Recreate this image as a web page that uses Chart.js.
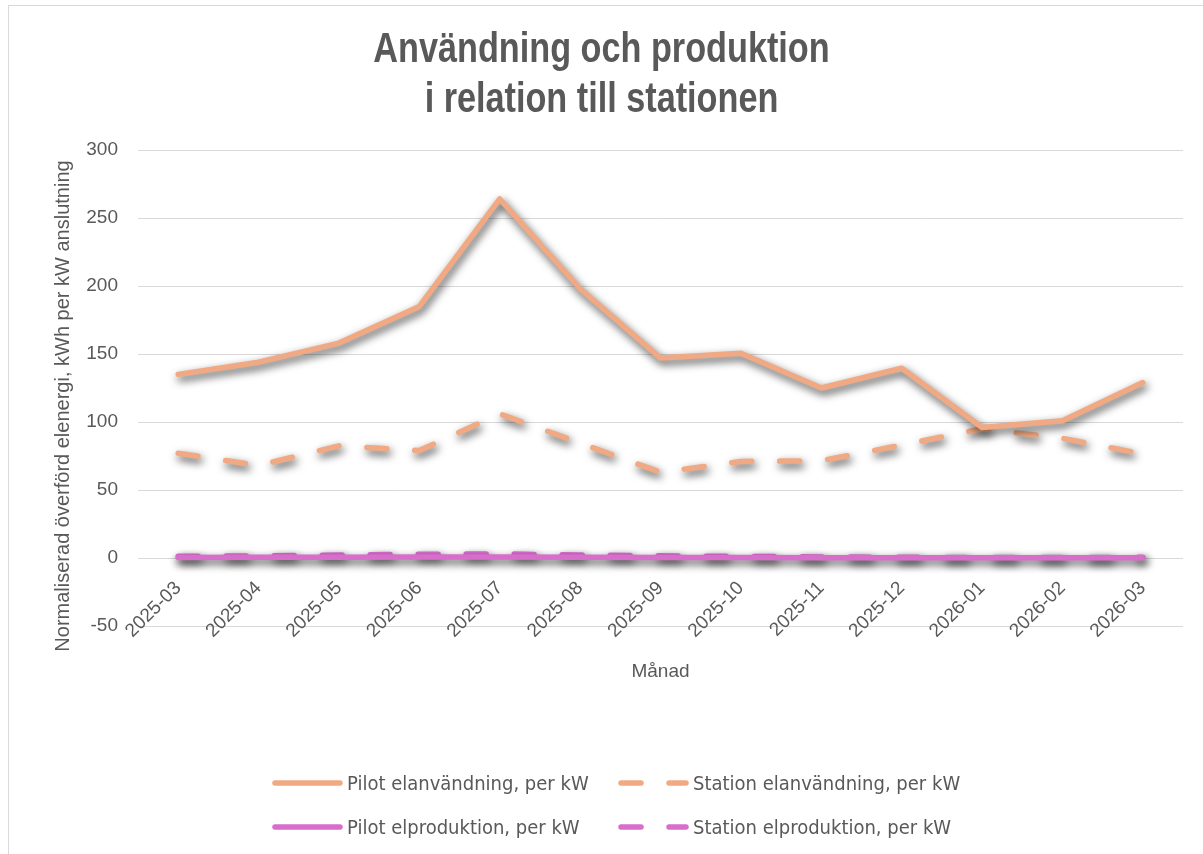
<!DOCTYPE html>
<html>
<head>
<meta charset="utf-8">
<script src="https://cdn.jsdelivr.net/npm/chart.js@4.4.1/dist/chart.umd.min.js"></script>
<style>
  html, body { margin: 0; padding: 0; background: #fff; }
  #wrap { position: relative; width: 1203px; height: 854px; overflow: hidden; }
  #frame { position: absolute; left: 8px; top: 5px; right: -10px; bottom: -10px; border: 1px solid #d9d9d9; pointer-events: none; }
  canvas { position: absolute; left: 0; top: 0; }
  .lg { position: absolute; display: flex; align-items: center; height: 22px;
        font-family: 'Liberation Sans Narrow', 'DejaVu Sans Condensed', sans-serif;
        font-size: 20px; color: #595959; white-space: nowrap; }
  .lg svg { display: block; margin-right: 4px; }
</style>
</head>
<body>
<div id="wrap">
  <canvas id="c" width="1203" height="854"></canvas>
  <div id="frame"></div>
  <div id="legend"></div>
</div>
<script>
// Monthly values, kWh per kW connection
const months = ['2025-03', '2025-04', '2025-05', '2025-06', '2025-07', '2025-08', '2025-09',
                '2025-10', '2025-11', '2025-12', '2026-01', '2026-02', '2026-03'];
const pilotUse     = [135, 144, 158, 185, 264, 198, 147, 150.5, 125, 139.5, 96, 101, 129];
const stationUse   = [77, 68, 82.5, 79, 106, 84.5, 63, 71, 71.5, 83, 95, 88, 76.5];
const pilotProd    = [0.4, 0.5, 0.6, 0.7, 0.7, 0.6, 0.4, 0.3, 0.2, 0.2, 0.1, 0.1, 0.1];
const stationProd  = [1.2, 1.6, 2.2, 2.8, 3.0, 2.2, 1.6, 1.2, 0.8, 0.5, 0.4, 0.4, 0.5];
const seriesNames  = ['Pilot elanvändning, per kW', 'Station elanvändning, per kW',
                      'Pilot elproduktion, per kW', 'Station elproduktion, per kW'];
const yTicks       = { min: -50, max: 300, step: 50 };
const titleLines   = ['Användning och produktion', 'i relation till stationen'];
const xTitle       = 'Månad';
const yTitle       = 'Normaliserad överförd elenergi, kWh per kW anslutning';

const ORANGE = '#F1A983';
const PURPLE = '#D86ECC';
const GREY = '#595959';
const DASH = [20, 28];
const SANS = "'Liberation Sans', Arial, sans-serif";

function lineSet(label, data, color, dashed) {
  return {
    label, data,
    borderColor: color, backgroundColor: color,
    borderWidth: 5.5,
    borderDash: dashed ? DASH : [],
    borderCapStyle: 'round', borderJoinStyle: 'round',
    pointRadius: 0, pointHoverRadius: 0,
    tension: 0, fill: false
  };
}

const datasets = [
  lineSet(seriesNames[0], pilotUse, ORANGE, false),
  lineSet(seriesNames[1], stationUse, ORANGE, true),
  lineSet(seriesNames[2], pilotProd, PURPLE, false),
  lineSet(seriesNames[3], stationProd, PURPLE, true)
];

// soft drop shadow under every series line
const lineShadow = {
  id: 'lineShadow',
  beforeDatasetDraw(chart) {
    const ctx = chart.ctx;
    ctx.save();
    ctx.shadowColor = 'rgba(0,0,0,0.72)';
    ctx.shadowBlur = 8;
    ctx.shadowOffsetX = 2;
    ctx.shadowOffsetY = 4;
  },
  afterDatasetDraw(chart) { chart.ctx.restore(); }
};

// condensed bold two-line heading
const heading = {
  id: 'heading',
  afterDraw(chart) {
    const ctx = chart.ctx;
    const cx = chart.width / 2;
    ctx.save();
    ctx.font = 'bold 42px ' + SANS;
    ctx.fillStyle = GREY;
    ctx.textAlign = 'center';
    ctx.textBaseline = 'alphabetic';
    titleLines.forEach((line, i) => {
      ctx.save();
      ctx.translate(cx, 62 + i * 50);
      ctx.scale(0.815, 1);
      ctx.fillText(line, 0, 0);
      ctx.restore();
    });
    ctx.restore();
  }
};

// vertical value-axis title
const valueAxisTitle = {
  id: 'valueAxisTitle',
  afterDraw(chart) {
    const ctx = chart.ctx;
    const a = chart.chartArea;
    ctx.save();
    ctx.font = '20px ' + SANS;
    ctx.fillStyle = GREY;
    ctx.textAlign = 'center';
    ctx.textBaseline = 'middle';
    ctx.translate(63, (a.top + a.bottom) / 2 + 18);
    ctx.rotate(-Math.PI / 2);
    ctx.fillText(yTitle, 0, 0);
    ctx.restore();
  }
};

new Chart(document.getElementById('c'), {
  type: 'line',
  data: { labels: months, datasets },
  plugins: [lineShadow, heading, valueAxisTitle],
  options: {
    responsive: false,
    animation: false,
    devicePixelRatio: 1,
    layout: { padding: { left: 8, right: 20, top: 150, bottom: 228 } },
    plugins: {
      legend: { display: false },
      tooltip: { enabled: false },
      title: { display: false }
    },
    scales: {
      x: {
        type: 'category',
        offset: true,
        position: { y: 0 },
        grid: { display: false, drawTicks: false },
        border: { display: false },
        ticks: {
          color: GREY, font: { family: SANS, size: 19 },
          minRotation: 45, maxRotation: 45, autoSkip: false, padding: 19
        },
        title: { display: true, text: xTitle, color: GREY, font: { family: SANS, size: 19 }, padding: 0 },
        afterFit(scale) { scale.height = 125; }
      },
      y: {
        min: yTicks.min, max: yTicks.max,
        grid: { color: '#D9D9D9', lineWidth: 1, drawTicks: false },
        border: { display: false },
        ticks: { stepSize: yTicks.step, color: GREY, font: { family: SANS, size: 19 }, padding: 20 },
        afterFit(scale) { scale.width = 130; }
      }
    }
  }
});

// legend in two rows of two entries
const legendSlots = [[272, 783], [618, 783], [272, 827], [618, 827]];
const legendEl = document.getElementById('legend');
datasets.forEach((ds, i) => {
  const [lx, ly] = legendSlots[i];
  const item = document.createElement('div');
  item.className = 'lg';
  item.style.left = lx + 'px';
  item.style.top = (ly - 11) + 'px';
  const dash = ds.borderDash.length ? ` stroke-dasharray="${ds.borderDash.join(' ')}"` : '';
  item.innerHTML =
    `<svg width="71" height="10"><line x1="3" y1="5" x2="68" y2="5" stroke="${ds.borderColor}" ` +
    `stroke-width="5.5" stroke-linecap="round"${dash}/></svg><span></span>`;
  item.querySelector('span').textContent = ds.label;
  legendEl.appendChild(item);
});
</script>
</body>
</html>
